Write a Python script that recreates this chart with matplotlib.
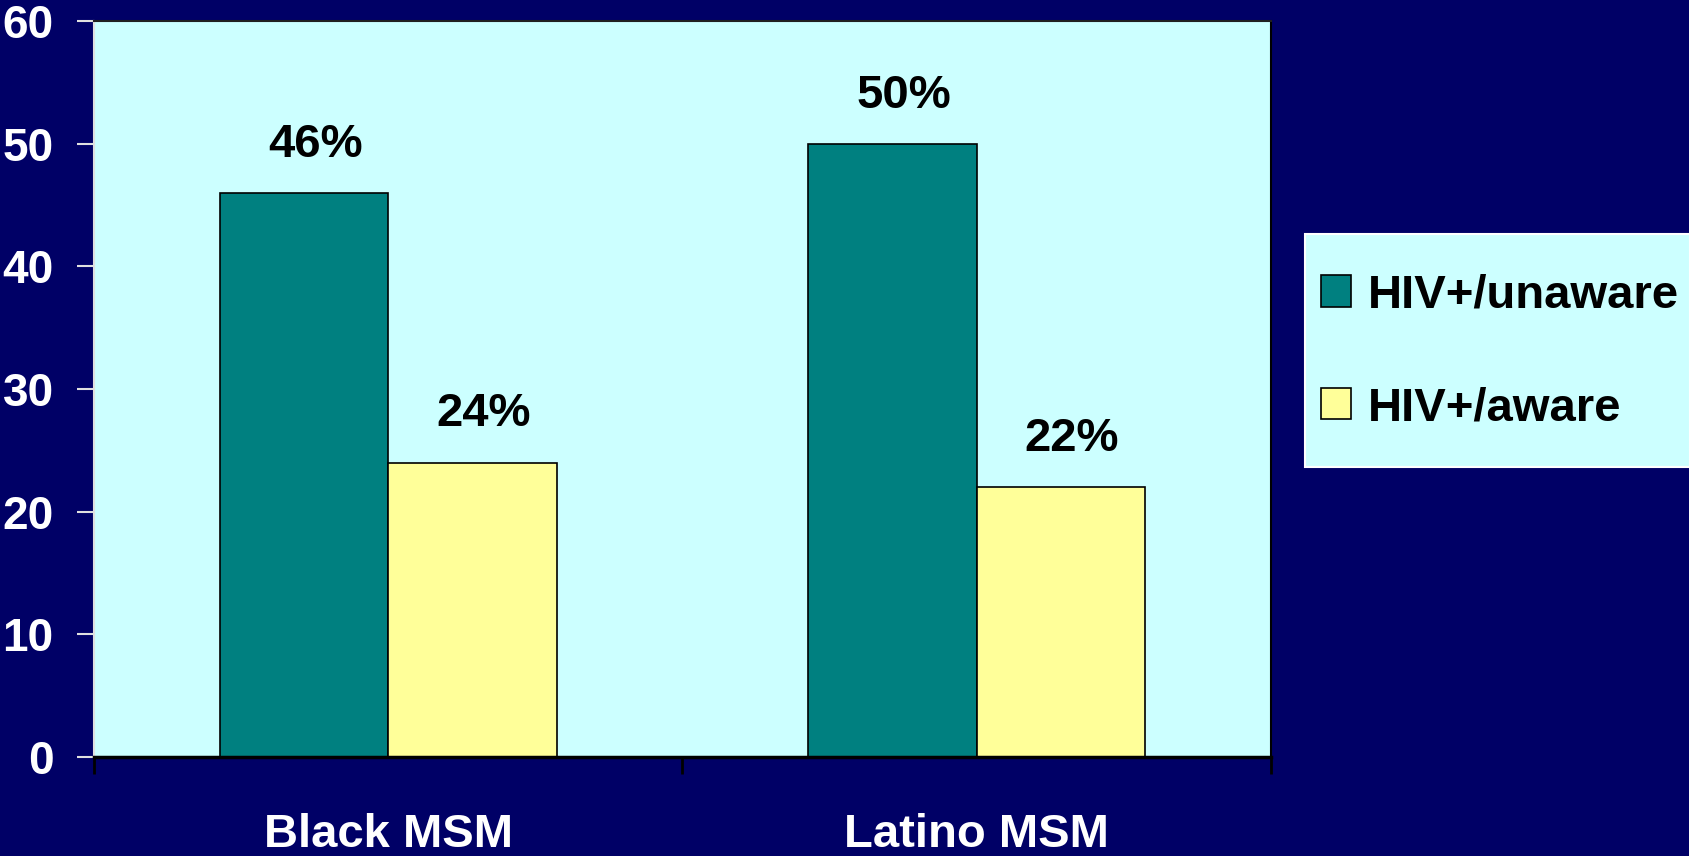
import numpy as np
import matplotlib
matplotlib.use('Agg')
import matplotlib.pyplot as plt
from matplotlib.patches import Rectangle

plt.rcParams['font.family'] = ['Liberation Sans', 'DejaVu Sans']
plt.rcParams['font.weight'] = 'bold'

# data
groups = ['Black MSM', 'Latino MSM']
series = ['HIV+/unaware', 'HIV+/aware']
unaware = [46, 50]
aware = [24, 22]
yticks = [0, 10, 20, 30, 40, 50, 60]

navy = '#000066'
cyan = '#CCFFFF'
teal = '#008080'
yellow = '#FFFF99'

fig = plt.figure(figsize=(16.9, 8.56), dpi=100, facecolor=navy)
ax = fig.add_axes([94/1690, 99/856, (1271-94)/1690, (757-21)/856])
ax.set_facecolor(cyan)

x = np.arange(len(groups))
w = 0.286
b1 = ax.bar(x - w/2, unaware, w, color=teal, edgecolor='black', linewidth=1.2, label=series[0])
b2 = ax.bar(x + w/2, aware, w, color=yellow, edgecolor='black', linewidth=1.2, label=series[1])

for bars, vals in ((b1, unaware), (b2, aware)):
    for r, v in zip(bars, vals):
        ax.annotate('%d%%' % v, (r.get_x() + r.get_width()/2, v), xytext=(8, 26),
                    textcoords='offset points', ha='center', va='baseline',
                    fontsize=34, fontweight='bold', color='black')

ax.set_xlim(-0.5, 1.5)
ax.set_ylim(0, 60)
ax.set_yticks(yticks)
ax.set_xticks(x)
ax.set_xticklabels(groups)
ax.set_xticks([-0.5, 0.5, 1.5], minor=True)

ax.tick_params(axis='y', direction='out', length=12, width=1.5, color='#E0E0E0',
               labelcolor='white', labelsize=33, pad=17)
ax.tick_params(axis='x', which='major', length=0, labelcolor='white', labelsize=34, pad=40)
ax.tick_params(axis='x', which='minor', direction='out', length=12, width=2, color='black')

ax.spines['left'].set_color('#E0E0E0')
ax.spines['left'].set_linewidth(1.5)
ax.spines['bottom'].set_color('black')
ax.spines['bottom'].set_linewidth(2.5)
ax.spines['top'].set_color('#202020')
ax.spines['top'].set_linewidth(1.5)
ax.spines['right'].set_color('black')
ax.spines['right'].set_linewidth(1.5)

# legend box
fig.patches.append(Rectangle((1305/1690, 389/856), 385/1690, 233/856,
                             transform=fig.transFigure, facecolor=cyan,
                             edgecolor='white', linewidth=1.5))
leg = fig.legend(handles=[b1, b2], labels=series, loc='center left',
                 bbox_to_anchor=(1297/1690, 504/856), frameon=False,
                 fontsize=34, borderpad=0, handlelength=0.65, handleheight=0.65,
                 handletextpad=0.35, labelspacing=1.45)
for t in leg.get_texts():
    t.set_color('black')
    t.set_fontweight('bold')

fig.savefig('out.png', dpi=100, facecolor=navy)
